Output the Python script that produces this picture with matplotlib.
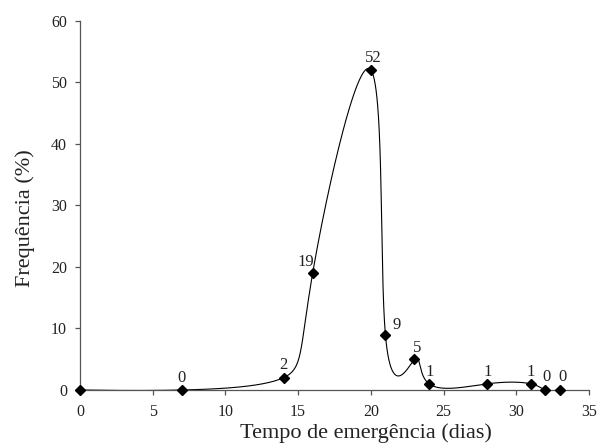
import numpy as np
import matplotlib
matplotlib.use("Agg")
import matplotlib.pyplot as plt

# ── Data ─────────────────────────────────────────────────────
dias = [0, 7, 14, 16, 20, 21, 23, 24, 28, 31, 32, 33]
freq = [0, 0, 2, 19, 52, 9, 5, 1, 1, 1, 0, 0]
rotulos = ["", "0", "2", "19", "52", "9", "5", "1", "1", "1", "0", "0"]
# label offsets in points (dx, dy), baseline relative to marker centre
offsets = [(0, 0), (0, 6), (0, 6.5), (-5, 5), (1.5, 6), (8, 4),
           (2, 5), (0.5, 5.5), (0, 5.5), (0, 5.5), (1, 6.5), (1.5, 6.5)]

plt.rcParams["font.family"] = ["Liberation Serif", "DejaVu Serif"]


def natural_spline(t, v, tt):
    """Natural cubic spline of v(t) evaluated at tt."""
    n = len(t)
    h = np.diff(t)
    A = np.zeros((n, n))
    b = np.zeros(n)
    A[0, 0] = A[-1, -1] = 1
    for i in range(1, n - 1):
        A[i, i - 1] = h[i - 1]
        A[i, i] = 2 * (h[i - 1] + h[i])
        A[i, i + 1] = h[i]
        b[i] = 6 * ((v[i + 1] - v[i]) / h[i] - (v[i] - v[i - 1]) / h[i - 1])
    M = np.linalg.solve(A, b)
    i = np.clip(np.searchsorted(t, tt, side="right") - 1, 0, n - 2)
    a = (t[i + 1] - tt) / h[i]
    c = (tt - t[i]) / h[i]
    return (a * v[i] + c * v[i + 1]
            + ((a ** 3 - a) * M[i] + (c ** 3 - c) * M[i + 1]) * h[i] ** 2 / 6)


def smooth_curve(x, y, n=3000):
    """Parametric spline through the points (uniform parameter)."""
    t = np.arange(len(x), dtype=float)
    tt = np.linspace(0, t[-1], n)
    return (natural_spline(t, np.asarray(x, float), tt),
            natural_spline(t, np.asarray(y, float), tt))


fig = plt.figure(figsize=(6, 4.46), dpi=100)
ax = fig.add_axes([0.1333, 0.1256, 0.8484, 0.828])

cx, cy = smooth_curve(dias, freq)
ax.plot(cx, cy, color="black", linewidth=0.8)
ax.plot(dias, freq, linestyle="none", marker="D", markersize=5.3,
        color="black", clip_on=False, zorder=3)

for xi, yi, lab, off in zip(dias, freq, rotulos, offsets):
    if lab:
        ax.annotate(lab, (xi, yi), xytext=off, textcoords="offset points",
                    ha="center", va="baseline", fontsize=12,
                    color="#222222")

ax.set_xlim(0, 35)
ax.set_ylim(0, 60)
ax.set_xticks(range(0, 36, 5))
ax.set_yticks(range(0, 61, 10))
ax.spines["top"].set_visible(False)
ax.spines["right"].set_visible(False)
for s in ("left", "bottom"):
    ax.spines[s].set_color("#555555")
    ax.spines[s].set_linewidth(0.9)
ax.tick_params(direction="out", length=3.3, width=0.9, color="#555555",
               labelsize=11.5, labelcolor="#222222")
ax.tick_params(axis="x", pad=7)
ax.tick_params(axis="y", pad=6)
ax.set_xlabel("Tempo de emergência (dias)", fontsize=16, color="#222222")
ax.set_ylabel("Frequência (%)", fontsize=16, color="#222222")
ax.xaxis.set_label_coords(0.562, -0.09)
ax.yaxis.set_label_coords(-0.088, 0.465)

fig.savefig("out.png", dpi=100)
